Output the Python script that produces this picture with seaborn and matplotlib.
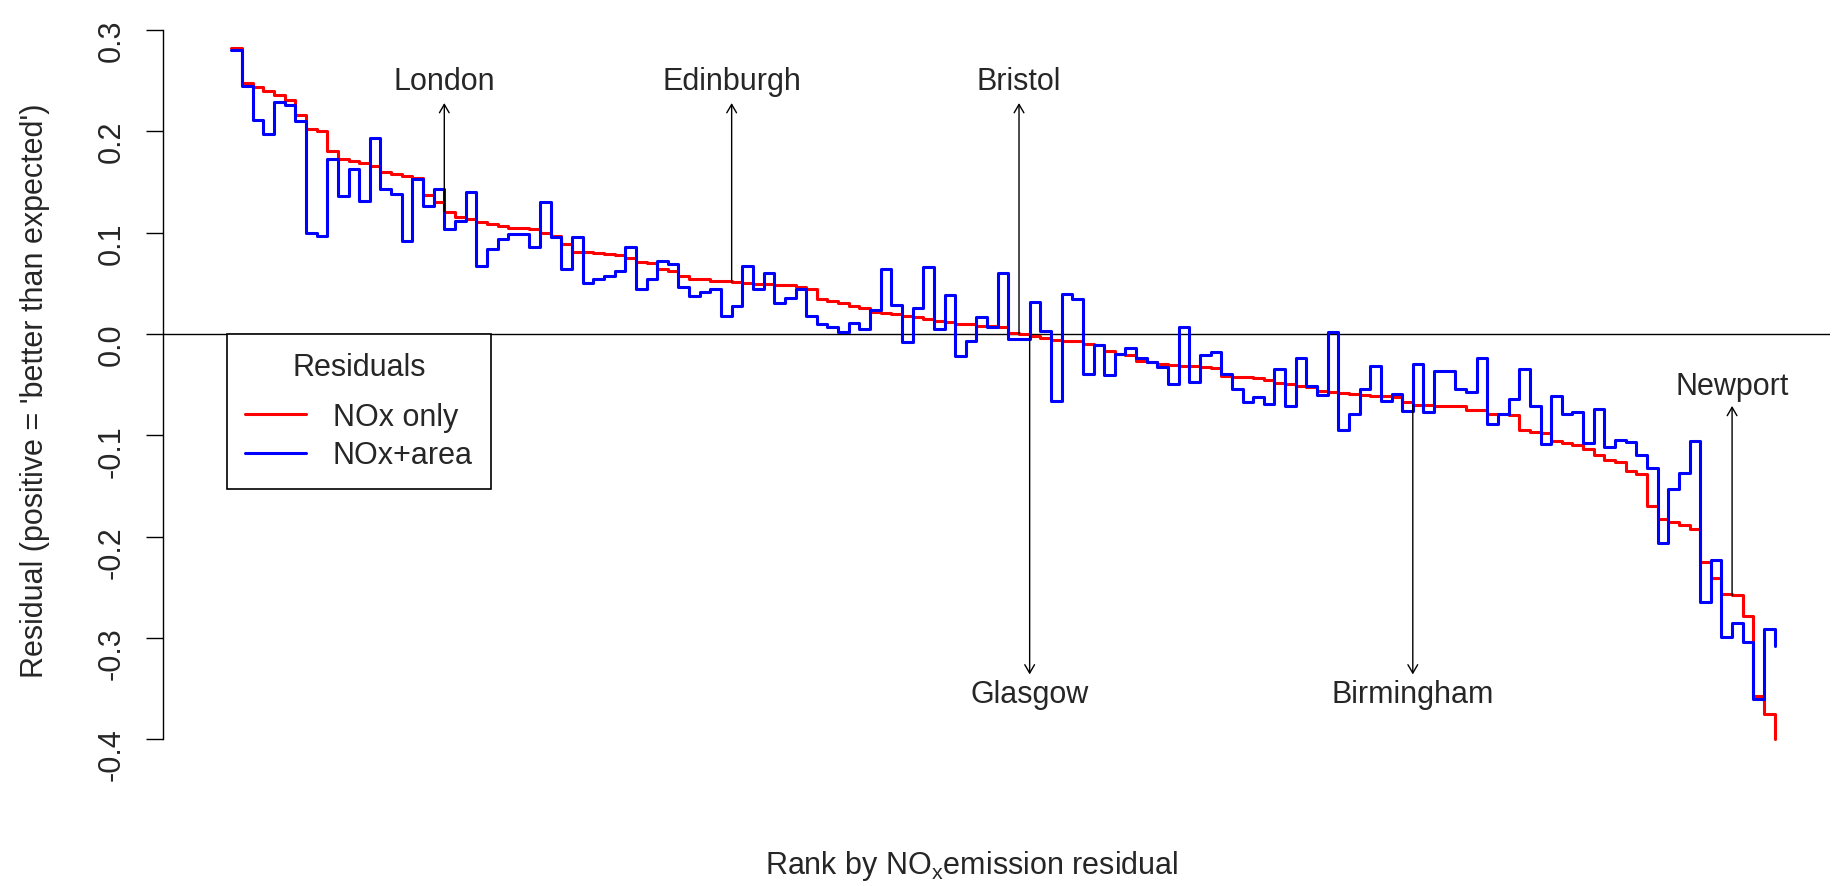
import matplotlib
matplotlib.use("Agg")
import matplotlib.pyplot as plt
from matplotlib.lines import Line2D
from matplotlib.ticker import FormatStrFormatter
import numpy as np
import pandas as pd
import seaborn as sns

# residuals sorted by the NOx-only model
nox_only = [
    0.282, 0.248, 0.2435, 0.240, 0.236, 0.231, 0.216, 0.2025, 0.200, 0.181,
    0.173, 0.171, 0.169, 0.1655, 0.160, 0.158, 0.156, 0.1545, 0.137, 0.130,
    0.1207, 0.116, 0.114, 0.111, 0.1086, 0.1063, 0.105, 0.105, 0.104, 0.100,
    0.097, 0.0888, 0.081, 0.0806, 0.080, 0.079, 0.078, 0.0747, 0.071, 0.070,
    0.064, 0.0625, 0.0576, 0.054, 0.054, 0.052, 0.052, 0.051, 0.050, 0.049,
    0.049, 0.048, 0.048, 0.046, 0.0444, 0.0345, 0.033, 0.031, 0.028, 0.026,
    0.0214, 0.021, 0.020, 0.018, 0.017, 0.015, 0.013, 0.012, 0.010, 0.0095,
    0.008, 0.0075, 0.0066, 0.001, 0.0, -0.0016, -0.0043, -0.006, -0.0066, -0.007,
    -0.010, -0.011, -0.0164, -0.020, -0.021, -0.027, -0.0275, -0.0296, -0.031, -0.0315,
    -0.032, -0.033, -0.034, -0.041, -0.042, -0.042, -0.043, -0.045, -0.048, -0.049,
    -0.051, -0.052, -0.056, -0.057,
    -0.058, -0.059, -0.060, -0.061, -0.061, -0.062, -0.0674, -0.070, -0.0705, -0.071,
    -0.071, -0.071, -0.0747, -0.075, -0.079, -0.079, -0.080,
    -0.095, -0.097, -0.098, -0.106, -0.108, -0.110, -0.1135, -0.119, -0.124,
    -0.126, -0.135, -0.138, -0.170, -0.1826, -0.186, -0.1886, -0.1925, -0.2254, -0.241,
    -0.2567, -0.258, -0.278, -0.357, -0.375, -0.40,
]

nox_area = [
    0.280, 0.245, 0.211, 0.197, 0.229, 0.226, 0.2105, 0.100, 0.097, 0.173,
    0.1365, 0.163, 0.1316, 0.1935, 0.143, 0.138, 0.092, 0.153, 0.1267, 0.143,
    0.104, 0.112, 0.140, 0.0674, 0.084, 0.094, 0.0987, 0.0987, 0.0856, 0.130,
    0.0954, 0.064, 0.0954, 0.0503, 0.054, 0.0576, 0.0625, 0.0856, 0.0444, 0.054,
    0.0724, 0.069, 0.046, 0.038, 0.041, 0.0444, 0.018, 0.028, 0.0668, 0.0444,
    0.060, 0.031, 0.036, 0.0444, 0.018, 0.0099, 0.0066, 0.0016, 0.0109, 0.005,
    0.024, 0.064, 0.0286, -0.0082, 0.0254, 0.0658, 0.005, 0.0385, -0.022, -0.0066,
    0.0164, 0.0066, 0.060, -0.005, -0.005, 0.032, 0.0033, -0.066, 0.0395, 0.0345,
    -0.0395, -0.0109, -0.0405, -0.0197, -0.0141, -0.024, -0.0273, -0.033, -0.049, 0.0066,
    -0.047, -0.0207, -0.018, -0.0395, -0.0543, -0.0674, -0.0625, -0.069, -0.0345, -0.0707,
    -0.024, -0.0517, -0.060, 0.0016,
    -0.0945, -0.079, -0.0543, -0.032, -0.0658, -0.059, -0.0757, -0.0296, -0.0767, -0.0362,
    -0.0362, -0.0543, -0.0576, -0.024, -0.0888, -0.079, -0.064,
    -0.035, -0.071, -0.109, -0.061, -0.079, -0.077, -0.108, -0.074, -0.112,
    -0.105, -0.107, -0.119, -0.132, -0.206, -0.153, -0.137, -0.106, -0.265, -0.223,
    -0.299, -0.285, -0.304, -0.360, -0.291, -0.308,
]

cities = ["London", "Edinburgh", "Bristol", "Glasgow", "Birmingham", "Newport"]
city_rank = [20, 47, 74, 75, 111, 141]

series_names = ["NOx only", "NOx+area"]
y_ticks = [-0.4, -0.3, -0.2, -0.1, 0.0, 0.1, 0.2, 0.3]

n = len(nox_only)
rank = np.arange(n)
df = pd.DataFrame({
    "Rank": np.concatenate([rank, rank]),
    "Residual": nox_only + nox_area,
    "Model": [series_names[0]] * n + [series_names[1]] * n,
})

sns.set_style("white")
plt.rcParams["font.family"] = ["Liberation Sans", "DejaVu Sans"]
plt.rcParams["axes.unicode_minus"] = False
plt.rcParams["mathtext.fontset"] = "custom"
plt.rcParams["mathtext.rm"] = "Liberation Sans"
plt.rcParams["mathtext.it"] = "Liberation Sans"

W, H = 1847, 887
fig = plt.figure(figsize=(W / 100, H / 100), dpi=100)
ax = fig.add_axes([163 / W, 1 - 767.6 / H, 1667 / W, 745.6 / H])

palette = {"NOx only": "#FF0000", "NOx+area": "#0000FF"}
sns.lineplot(data=df, x="Rank", y="Residual", hue="Model", hue_order=series_names,
             palette=palette, drawstyle="steps-post", linewidth=2.2,
             estimator=None, sort=False, legend=False, ax=ax)

ax.set_xlim(-6.43, 150.2)
ax.set_ylim(-0.427, 0.309)
ax.axhline(0, color="black", lw=1.0, zorder=1)

for s in ["top", "right", "bottom"]:
    ax.spines[s].set_visible(False)
ax.spines["left"].set_bounds(-0.4, 0.3)
ax.spines["left"].set_color("black")
ax.spines["left"].set_linewidth(1.0)

ax.set_xticks([])
ax.set_yticks(y_ticks)
ax.yaxis.set_major_formatter(FormatStrFormatter("%.1f"))
ax.tick_params(axis="y", direction="out", length=12.2, width=1.0, pad=14,
               labelsize=22, labelrotation=90, left=True, color="black")

ax.set_ylabel("Residual (positive = 'better than expected')", fontsize=22)
ax.yaxis.set_label_coords(-0.0768, 0.506)
ax.yaxis.label.set_va("center")
ax.set_xlabel(r"Rank by NO$_{\mathregular{x}}$emission residual", fontsize=22)
ax.xaxis.set_label_coords(0.485, -0.132)
ax.xaxis.label.set_va("center")

# city arrows: from the NOx-only residual out to the label
label_pos = {"London": (0.228, 0.25), "Edinburgh": (0.228, 0.25), "Bristol": (0.228, 0.25),
             "Glasgow": (-0.336, -0.355), "Birmingham": (-0.336, -0.355),
             "Newport": (-0.071, -0.051)}
for city, r in zip(cities, city_rank):
    tip, ty = label_pos[city]
    ax.annotate("", xy=(r, tip), xytext=(r, nox_only[r]),
                arrowprops=dict(arrowstyle="->,head_length=0.6,head_width=0.35",
                                color="black", lw=1.0, shrinkA=0, shrinkB=0))
    ax.text(r, ty, city, ha="center", va="center", fontsize=22)

handles = [Line2D([], [], color=palette[s], lw=2.2) for s in series_names]
leg = ax.legend(handles, series_names, title="Residuals", loc="upper left",
                bbox_to_anchor=(0.0384, 0.580), borderaxespad=0, fontsize=22,
                title_fontsize=22, frameon=True, fancybox=False, edgecolor="black",
                framealpha=1, handlelength=1.97, handletextpad=0.89, borderpad=0.6,
                labelspacing=0.28)
leg.get_frame().set_linewidth(1.2)
# a little more room between the title and the entries
leg._legend_box.sep = 14

fig.savefig("out.png", dpi=100)
